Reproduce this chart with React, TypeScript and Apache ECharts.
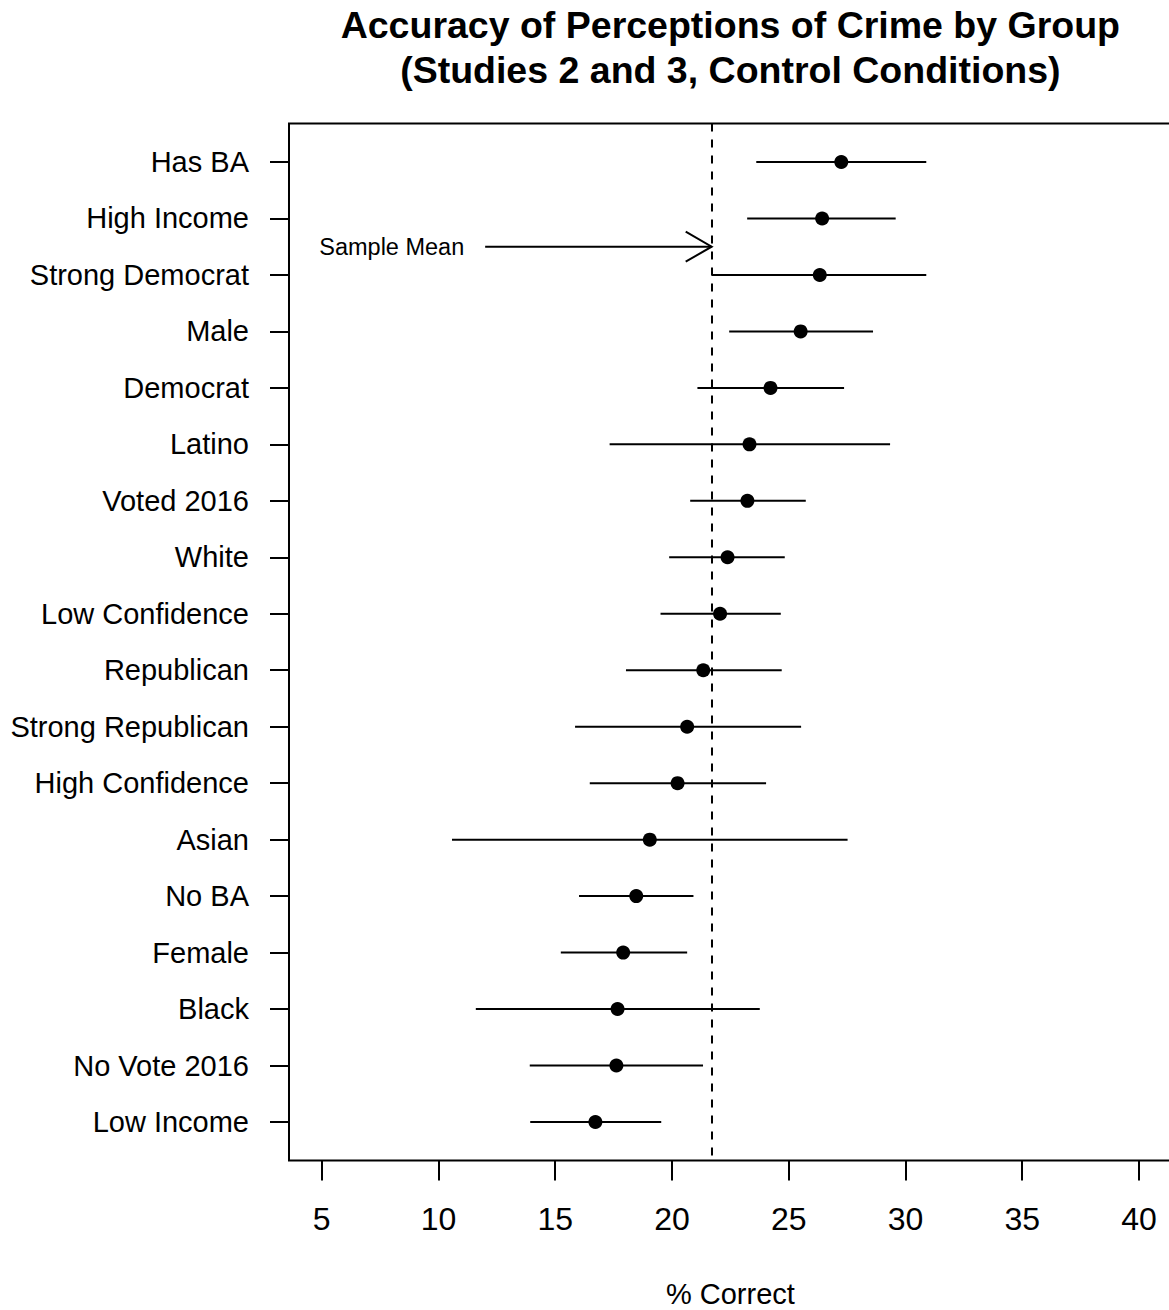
import React, { useEffect, useRef } from "react";
import * as echarts from "echarts";

// Groups, listed from top row to bottom row
const categories = [
  "Has BA",
  "High Income",
  "Strong Democrat",
  "Male",
  "Democrat",
  "Latino",
  "Voted 2016",
  "White",
  "Low Confidence",
  "Republican",
  "Strong Republican",
  "High Confidence",
  "Asian",
  "No BA",
  "Female",
  "Black",
  "No Vote 2016",
  "Low Income",
];

// Percent correct (point estimate) and interval bounds per group
const means = [
  27.25, 26.43, 26.33, 25.51, 24.22, 23.32, 23.23, 22.38, 22.06, 21.34, 20.65,
  20.24, 19.05, 18.47, 17.91, 17.67, 17.62, 16.72,
];
const lower = [
  23.61, 23.22, 21.7, 22.45, 21.09, 17.33, 20.78, 19.88, 19.51, 18.03, 15.85,
  16.48, 10.58, 16.02, 15.24, 11.6, 13.91, 13.93,
];
const upper = [
  30.89, 29.58, 30.89, 28.61, 27.37, 29.34, 25.73, 24.83, 24.66, 24.7, 25.53,
  24.03, 27.52, 20.92, 20.65, 23.76, 21.33, 19.54,
];

const xTicks = [5, 10, 15, 20, 25, 30, 35, 40];
const sampleMean = 21.7;

// Annotation: label x, arrow start x, arrow row position
const annotationLabel = "Sample Mean";
const annotationLabelX = 8;
const annotationArrowFrom = 12;
const annotationRow = 2.5;

const FONT = '"Liberation Sans", Arial, Helvetica, sans-serif';

export default function App() {
  const ref = useRef<HTMLDivElement>(null);

  useEffect(() => {
    if (!ref.current) return;
    const chart = echarts.init(ref.current, undefined, { renderer: "svg" });

    const rows = categories.map((_, i) => i + 1);
    const barData = categories.map((_, i) => [lower[i], upper[i], rows[i]]);
    const pointData = categories.map((_, i) => [means[i], rows[i]]);

    const gridLeft = 289;
    const gridTop = 123.6;
    const gridWidth = 882.7;
    const gridHeight = 1036.8;

    chart.setOption({
      animation: false,
      backgroundColor: "#fff",
      textStyle: { fontFamily: FONT, color: "#000" },
      graphic: [
        {
          type: "text",
          x: gridLeft + gridWidth / 2,
          y: 25,
          style: {
            text: "Accuracy of Perceptions of Crime by Group",
            fontFamily: FONT,
            fontSize: 37.5,
            fontWeight: "bold",
            fill: "#000",
            align: "center",
            verticalAlign: "middle",
          },
        },
        {
          type: "text",
          x: gridLeft + gridWidth / 2,
          y: 70.3,
          style: {
            text: "(Studies 2 and 3, Control Conditions)",
            fontFamily: FONT,
            fontSize: 37.5,
            fontWeight: "bold",
            fill: "#000",
            align: "center",
            verticalAlign: "middle",
          },
        },
      ],
      grid: {
        left: gridLeft,
        top: gridTop,
        width: gridWidth,
        height: gridHeight,
        show: true,
        borderColor: "#000",
        borderWidth: 2,
        backgroundColor: "transparent",
        containLabel: false,
        outerBoundsMode: "none",
      },
      xAxis: {
        type: "value",
        min: 3.6,
        max: 41.4,
        splitLine: { show: false },
        axisLine: { show: false },
        axisTick: {
          show: true,
          customValues: xTicks,
          length: 20,
          lineStyle: { color: "#000", width: 2 },
        },
        axisLabel: {
          customValues: xTicks,
          fontSize: 32,
          color: "#000",
          fontFamily: FONT,
          margin: 59,
          verticalAlign: "middle",
        },
        name: "% Correct",
        nameLocation: "middle",
        nameGap: 134,
        nameTextStyle: {
          fontSize: 29,
          color: "#000",
          fontFamily: FONT,
          verticalAlign: "middle",
        },
      },
      yAxis: {
        type: "value",
        inverse: true,
        min: 0.32,
        max: 18.68,
        splitLine: { show: false },
        axisLine: { show: false },
        axisTick: {
          show: true,
          customValues: rows,
          length: 19,
          lineStyle: { color: "#000", width: 2 },
        },
        axisLabel: {
          customValues: rows,
          formatter: (v: number) => categories[Math.round(v) - 1] ?? "",
          fontSize: 29,
          color: "#000",
          fontFamily: FONT,
          margin: 40,
        },
      },
      series: [
        {
          name: "Interval",
          type: "custom",
          data: barData,
          encode: { x: [0, 1], y: 2 },
          renderItem: (_params: any, api: any) => {
            const a = api.coord([api.value(0), api.value(2)]);
            const b = api.coord([api.value(1), api.value(2)]);
            return {
              type: "line",
              shape: { x1: a[0], y1: a[1], x2: b[0], y2: b[1] },
              style: { stroke: "#000", lineWidth: 2 },
            };
          },
          markLine: {
            silent: true,
            symbol: ["none", "none"],
            label: { show: false },
            lineStyle: { color: "#000", width: 2, type: [8, 8], opacity: 1 },
            data: [{ xAxis: sampleMean }],
          },
          z: 2,
        },
        {
          name: "Percent correct",
          type: "scatter",
          data: pointData,
          symbol: "circle",
          symbolSize: 14,
          itemStyle: { color: "#000", opacity: 1 },
          z: 4,
        },
        {
          name: "Annotation",
          type: "custom",
          data: [[annotationLabelX, annotationArrowFrom, sampleMean, annotationRow]],
          encode: { x: [0, 1, 2], y: 3 },
          renderItem: (_params: any, api: any) => {
            const row = api.value(3);
            const label = api.coord([api.value(0), row]);
            const from = api.coord([api.value(1), row]);
            const tip = api.coord([api.value(2), row]);
            const headLen = 30;
            const ang = (30 * Math.PI) / 180;
            const hx = tip[0] - headLen * Math.cos(ang);
            const hy = headLen * Math.sin(ang);
            return {
              type: "group",
              children: [
                {
                  type: "line",
                  shape: { x1: from[0], y1: from[1], x2: tip[0], y2: tip[1] },
                  style: { stroke: "#000", lineWidth: 2 },
                },
                {
                  type: "polyline",
                  shape: {
                    points: [
                      [hx, tip[1] - hy],
                      [tip[0], tip[1]],
                      [hx, tip[1] + hy],
                    ],
                  },
                  style: { stroke: "#000", lineWidth: 2, fill: "none" },
                },
                {
                  type: "text",
                  x: label[0],
                  y: label[1],
                  style: {
                    text: annotationLabel,
                    fontFamily: FONT,
                    fontSize: 23.5,
                    fill: "#000",
                    align: "center",
                    verticalAlign: "middle",
                  },
                },
              ],
            };
          },
          z: 3,
        },
      ],
    });

    return () => chart.dispose();
  }, []);

  return (
    <div
      style={{
        position: "fixed",
        left: 0,
        top: 0,
        width: 1169,
        height: 1310,
        overflow: "hidden",
        background: "#fff",
      }}
    >
      <div ref={ref} style={{ width: 1180, height: 1310 }} />
    </div>
  );
}
